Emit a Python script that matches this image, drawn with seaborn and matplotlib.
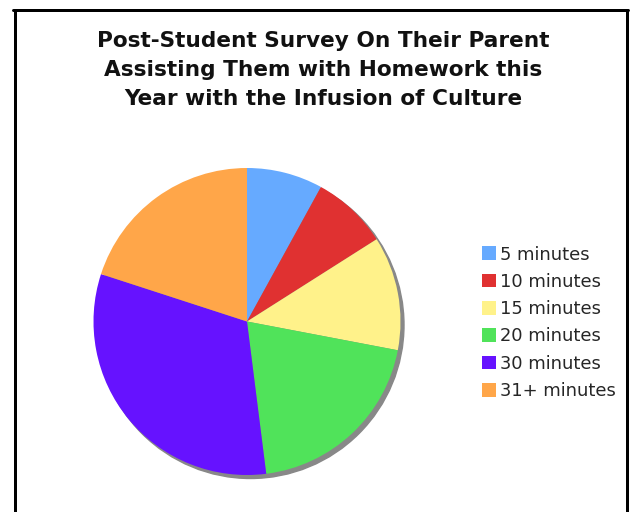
import matplotlib
matplotlib.use("Agg")
import matplotlib.pyplot as plt
import seaborn as sns
from matplotlib.patches import Circle, Patch
from matplotlib.lines import Line2D

categories = ["5 minutes", "10 minutes", "15 minutes", "20 minutes", "30 minutes", "31+ minutes"]
values = [2, 2, 3, 5, 8, 5]
colors = ["#66AAFF", "#E03131", "#FFF28A", "#50E35A", "#6612FF", "#FFA649"]
title = "Post-Student Survey On Their Parent\nAssisting Them with Homework this\nYear with the Infusion of Culture"

sns.set_theme(style="white")
plt.rcParams['font.family'] = ['DejaVu Sans']

W, H = 631, 512
fig = plt.figure(figsize=(W / 100, H / 100), dpi=100)
fig.patch.set_facecolor("white")

def px(x, y):
    return x / W, 1 - y / H
lw = 3 * 72 / 100
for (x0, y0), (x1, y1) in [((14.5, 512), (14.5, 9.5)), ((13, 9.5), (628, 9.5)), ((626.5, 9.5), (626.5, 512))]:
    a, b = px(x0, y0)
    c, d = px(x1, y1)
    fig.add_artist(Line2D([a, c], [b, d], color="black", lw=lw, transform=fig.transFigure))

fig.text(323 / W, 1 - 70 / H, title, ha="center", va="center", fontsize=15.6, fontweight="bold",
         linespacing=1.55, color="#111111")

cx, cy, r = 247, 321.5, 153.5
ax = fig.add_axes([(cx - r) / W, (H - cy - r) / H, 2 * r / W, 2 * r / H])
off = 3.5 / r
wedges, _ = ax.pie(values, colors=colors, startangle=90, counterclock=False, radius=1.0,
                   wedgeprops=dict(linewidth=0))
for w in wedges:
    w.set_zorder(1)
ax.add_patch(Circle((off, -off), 1.0, color="#888888", zorder=0, clip_on=False))
ax.set_xlim(-1, 1)
ax.set_ylim(-1, 1)
ax.axis("off")

handles = [Patch(facecolor=c, edgecolor="none") for c in colors]
fig.legend(handles, categories, loc="upper left", bbox_to_anchor=(482 / W, 1 - 245.5 / H),
           frameon=False, fontsize=12.9, handlelength=0.8, handleheight=0.8,
           handletextpad=0.22, labelspacing=0.52, borderpad=0, borderaxespad=0)

fig.savefig("out.png", dpi=100)
